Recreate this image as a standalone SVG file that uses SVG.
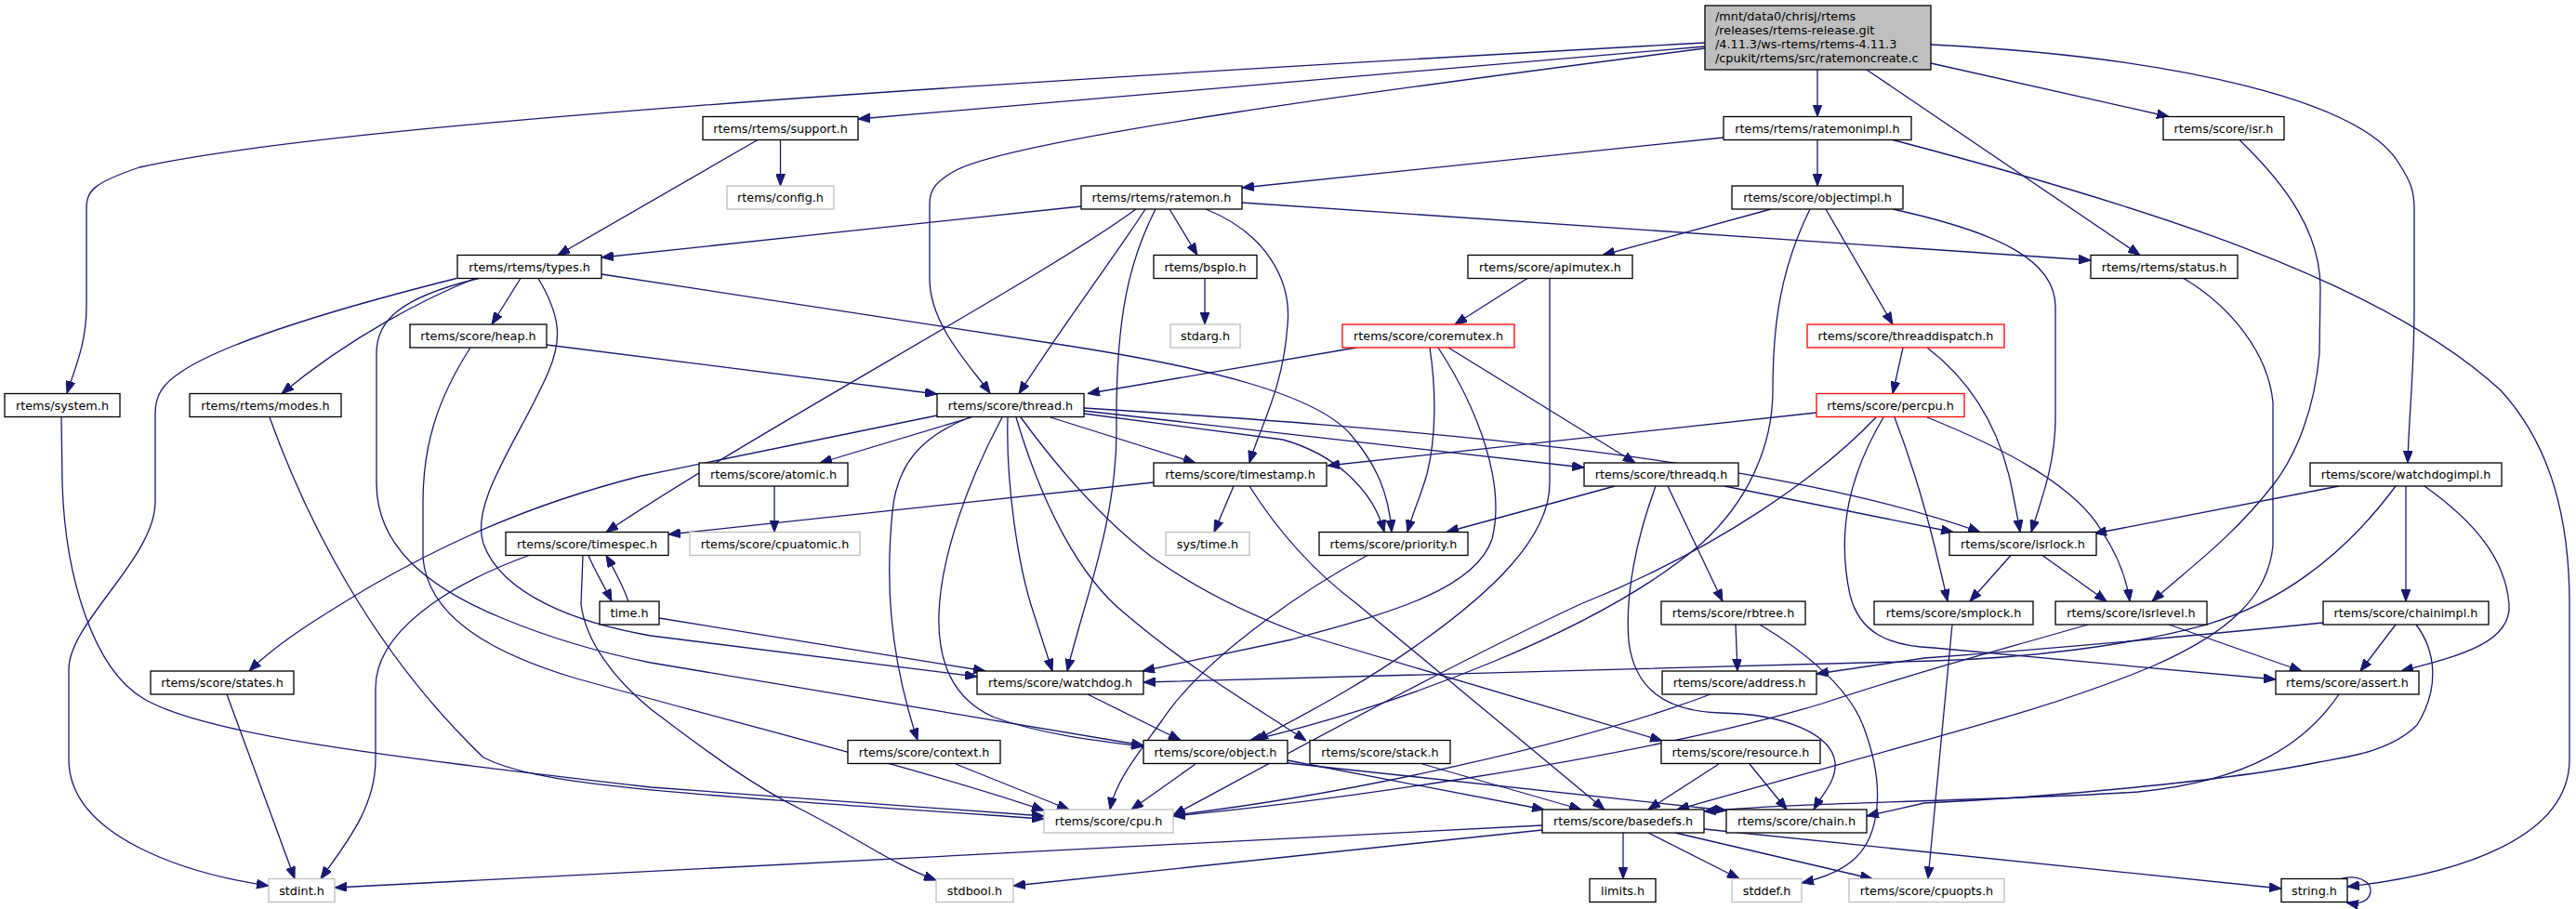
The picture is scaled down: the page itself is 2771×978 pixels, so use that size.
<svg xmlns="http://www.w3.org/2000/svg" width="2771" height="978" viewBox="0 0 2771 978">
<style>
rect{fill:#fff;stroke:#000;stroke-width:1.3}
.g rect{stroke:#bfbfbf}
.r rect{stroke:#ff0000}
#main rect{fill:#bfbfbf}
text{font-family:"DejaVu Sans","Liberation Sans",sans-serif;font-size:12.8px;fill:#000;text-anchor:middle}
#main text{text-anchor:start}
#edges path{fill:none;stroke:#191970;stroke-width:1.3;marker-end:url(#a)}
</style>
<defs>
<marker id="a" viewBox="0 0 13 10" refX="13" refY="5" markerWidth="13" markerHeight="10" markerUnits="userSpaceOnUse" orient="auto"><path d="M0,0L13,5L0,10z" fill="#191970" stroke="#191970"/></marker>
</defs>
<rect x="0" y="0" width="2771" height="978" style="fill:#fff;stroke:none"/>
<g id="edges">
<path d="M1834,46 C1000,92 350,135 150,180 C100,197 93,205 93,225 L93,330 C93,370 80,398 72,423"/>
<path d="M1834,50 L923,128"/>
<path d="M1834,52 C1500,95 1080,150 1025,185 C1005,197 1000,205 1000,220 L1000,300 C1000,350 1045,395 1065,423"/>
<path d="M1955,75 L1955,125.5"/>
<path d="M2008,75 L2302,274.5"/>
<path d="M2077,68 L2333,125.5"/>
<path d="M2077,48 C2350,62 2540,110 2580,175 C2593,195 2597,205 2597,225 L2597,330 C2597,400 2591,450 2590,498"/>
<path d="M839.5,150.5 L839.5,200"/>
<path d="M815,150.5 L600,274.5"/>
<path d="M1955,150.5 L1955,200"/>
<path d="M1854,148 L1336,202"/>
<path d="M2036,150.5 C2300,220 2560,300 2690,420 C2745,480 2764,560 2764,650 L2764,817 C2764,900 2650,940 2525,954"/>
<path d="M2516,946 C2535,940 2550,948 2550,958 C2550,968 2540,974 2524,971"/>
<path d="M1163,222 L647,277"/>
<path d="M1258,225 L1288,274.5"/>
<path d="M1232,225 C1200,275 1150,340 1096,423.5"/>
<path d="M1222,225 C1120,300 820,460 652,572.5"/>
<path d="M1243,225 C1215,280 1200,340 1201,460 C1202,560 1165,650 1148,722"/>
<path d="M1297,225 C1360,250 1390,300 1385,350 C1380,420 1355,460 1344,498"/>
<path d="M1336,218 L2249,280"/>
<path d="M560,299.5 L529,349"/>
<path d="M511,299.5 C460,320 380,360 303,423.5"/>
<path d="M491,299.5 C350,335 240,370 195,400 C175,413 167,425 167,445 L167,540 C167,600 74,670 74,720 L74,817 C74,900 200,940 289,953"/>
<path d="M579,299.5 C603,340 605,365 590,400 C560,470 505,540 520,585 C540,640 620,670 700,684 L1051,728"/>
<path d="M647,295 L1136,370 C1300,395 1420,425 1455,470 C1480,500 1494,530 1497,572.5"/>
<path d="M515,299.5 C430,320 405,345 405,380 L405,520 C405,585 455,630 540,665 C600,690 650,703 700,713 L1230,802"/>
<path d="M588,371 L1008,424"/>
<path d="M506,374 C470,430 455,480 455,540 L455,600 C460,660 520,700 620,730 C800,780 1000,830 1123,872"/>
<path d="M66,449 L67,520 C70,620 100,720 155,752 C220,790 400,812 700,847 L1123,878"/>
<path d="M290,449 C330,560 400,700 520,815 C580,845 700,852 1123,881"/>
<path d="M1008,447 L690,512 C560,545 470,590 400,630 C350,660 300,690 268,722"/>
<path d="M1045,449 L882,498"/>
<path d="M1130,449 L1286,498"/>
<path d="M1166,442 L1704,503"/>
<path d="M1166,439 C1500,460 1900,490 2130,572.5"/>
<path d="M1166,445 L1380,473 C1440,490 1478,530 1489,572.5"/>
<path d="M1043,449 C990,470 965,500 960,550 C953,620 955,700 987,796.5"/>
<path d="M1078,449 C1040,520 1012,600 1010,660 C1008,720 1030,755 1070,772 C1120,790 1180,797 1230,803"/>
<path d="M1084,449 C1082,520 1095,610 1112,660 L1132,722"/>
<path d="M1093,449 C1120,540 1160,620 1210,660 C1280,720 1350,760 1405,797"/>
<path d="M1098,449 C1150,520 1200,570 1240,600 C1290,635 1340,660 1400,682 L1788,797"/>
<path d="M1459,374 L1170,423.5"/>
<path d="M1538,374 C1545,420 1545,470 1535,510 C1528,535 1520,550 1514,572.5"/>
<path d="M1558,374 L1759,498"/>
<path d="M1547,374 C1590,440 1620,520 1605,580 C1585,640 1470,665 1390,688 L1229,722"/>
<path d="M1643,299.5 L1565,349"/>
<path d="M1667,299.5 L1667,520 C1667,580 1600,640 1530,690 C1460,740 1400,770 1351,796.5"/>
<path d="M1905,225 L1724,274.5"/>
<path d="M1964,225 L2036,349"/>
<path d="M2036,225 C2150,250 2211,280 2211,330 L2211,450 C2211,500 2195,540 2185,572.5"/>
<path d="M1947,225 C1915,290 1907,350 1907,420 C1907,480 1880,540 1830,585 C1720,680 1500,760 1344,797"/>
<path d="M2047,374 L2036,423.5"/>
<path d="M2073,374 C2120,410 2150,460 2163,520 C2168,545 2171,560 2173,572.5"/>
<path d="M1954,444 L1428,501"/>
<path d="M2018,449 C1960,510 1850,590 1700,650 C1550,720 1350,830 1262,877"/>
<path d="M2026,449 C1990,510 1975,570 1990,640 C2000,680 2030,695 2080,697 L2448,731"/>
<path d="M2038,449 C2065,520 2080,580 2095,647"/>
<path d="M2073,449 C2150,480 2230,520 2260,570 C2280,600 2288,625 2291,647"/>
<path d="M833,523 L833,572.5"/>
<path d="M1241,519 L719,575"/>
<path d="M1327,523 L1306,572.5"/>
<path d="M1344,523 C1380,580 1420,620 1460,650 L1726,871"/>
<path d="M1737,523 L1556,572.5"/>
<path d="M1794,523 L1853,647"/>
<path d="M1855,523 L2101,572.5"/>
<path d="M1781,523 C1760,580 1748,640 1752,690 C1758,740 1790,765 1850,767 C1920,768 1970,790 1974,820 C1976,840 1960,855 1951,871"/>
<path d="M2516,523 L2253,574"/>
<path d="M2588,523 L2588,647"/>
<path d="M2608,523 C2660,560 2695,600 2699,650 C2702,690 2650,705 2583,722"/>
<path d="M2577,523 C2520,600 2450,650 2373,672 C2290,695 2180,708 2080,711 L1230,734"/>
<path d="M569,597.5 C480,630 404,680 404,740 L404,817 C404,870 370,910 345,945.5"/>
<path d="M627,597.5 L625,650 C630,690 660,730 700,763 C750,800 800,840 860,870 C920,900 960,930 1007,947"/>
<path d="M633,597.5 C640,615 650,630 658,647"/>
<path d="M676,647 C670,630 662,615 652,597.5"/>
<path d="M709,665 L1060,722"/>
<path d="M1471,597.5 C1420,625 1300,700 1250,775 C1225,810 1200,840 1194,871"/>
<path d="M2163,597.5 L2119,647"/>
<path d="M2197,597.5 L2266,647"/>
<path d="M1867,672 L1869,722"/>
<path d="M1893,672 C1940,700 1990,740 2005,783 C2030,850 2020,900 1996,923 C1980,938 1960,945 1938,950"/>
<path d="M2100,672 L2074,945.5"/>
<path d="M2333,672 L2476,722"/>
<path d="M2246,672 C2150,700 2080,717 1960,757 C1750,820 1400,865 1262,878"/>
<path d="M2499,670 C2300,690 2150,702 2070,708 L1954,725"/>
<path d="M2577,672 L2539,722"/>
<path d="M2599,672 C2620,700 2625,740 2600,780 C2570,810 2520,815 2494,820 C2400,840 2200,858 2070,864 L2008,878"/>
<path d="M244,747 L317,945.5"/>
<path d="M1170,747 L1270,796.5"/>
<path d="M1840,747 C1700,800 1450,855 1262,877"/>
<path d="M2516,747 C2480,800 2420,840 2300,852 C2150,862 1950,862 1833,873"/>
<path d="M1028,822 L1150,871"/>
<path d="M1286,822 L1217,871"/>
<path d="M1385,818 L1661,871"/>
<path d="M1385,821 L1857,872"/>
<path d="M1530,822 L1701,871"/>
<path d="M1849,822 L1773,871"/>
<path d="M1882,822 L1922,871"/>
<path d="M2349,299.5 C2400,330 2440,380 2445,433 L2445,587 C2440,640 2400,680 2315,717 C2200,765 2080,793 1804,871"/>
<path d="M2409,150.5 C2460,200 2496,250 2496,310 L2495,380 C2490,440 2470,490 2445,522 C2400,580 2350,615 2315,647"/>
<path d="M1746,896 L1746,945.5"/>
<path d="M1773,896 L1871,945.5"/>
<path d="M1802,896 L2014,945.5"/>
<path d="M1833,892 L2454,956"/>
<path d="M1659,888 L360,955"/>
<path d="M1659,893 L1090,953"/>
<path d="M1296,299.5 L1296,349"/>
</g>
<g id="main"><rect x="1834" y="6" width="243" height="69"/><text x="1845" y="22">/mnt/data0/chrisj/rtems</text><text x="1845" y="37">/releases/rtems-release.git</text><text x="1845" y="52">/4.11.3/ws-rtems/rtems-4.11.3</text><text x="1845" y="67">/cpukit/rtems/src/ratemoncreate.c</text></g>
<g id="support"><rect x="756" y="125.5" width="167" height="25"/><text x="839.5" y="142.5">rtems/rtems/support.h</text></g>
<g id="ratemonimpl"><rect x="1854" y="125.5" width="202" height="25"/><text x="1955" y="142.5">rtems/rtems/ratemonimpl.h</text></g>
<g id="isr"><rect x="2327" y="125.5" width="130" height="25"/><text x="2392" y="142.5">rtems/score/isr.h</text></g>
<g id="config" class="g"><rect x="782" y="200" width="115" height="25"/><text x="839.5" y="217">rtems/config.h</text></g>
<g id="ratemon"><rect x="1163" y="200" width="173" height="25"/><text x="1249.5" y="217">rtems/rtems/ratemon.h</text></g>
<g id="objectimpl"><rect x="1863" y="200" width="184" height="25"/><text x="1955" y="217">rtems/score/objectimpl.h</text></g>
<g id="types"><rect x="492" y="274.5" width="155" height="25"/><text x="569.5" y="291.5">rtems/rtems/types.h</text></g>
<g id="bspIo"><rect x="1241" y="274.5" width="111" height="25"/><text x="1296.5" y="291.5">rtems/bspIo.h</text></g>
<g id="apimutex"><rect x="1579" y="274.5" width="177" height="25"/><text x="1667.5" y="291.5">rtems/score/apimutex.h</text></g>
<g id="status"><rect x="2249" y="274.5" width="158" height="25"/><text x="2328" y="291.5">rtems/rtems/status.h</text></g>
<g id="heap"><rect x="441" y="349" width="147" height="25"/><text x="514.5" y="366">rtems/score/heap.h</text></g>
<g id="stdarg" class="g"><rect x="1259" y="349" width="75" height="25"/><text x="1296.5" y="366">stdarg.h</text></g>
<g id="coremutex" class="r"><rect x="1444" y="349" width="185" height="25"/><text x="1536.5" y="366">rtems/score/coremutex.h</text></g>
<g id="threaddispatch" class="r"><rect x="1944" y="349" width="212" height="25"/><text x="2050" y="366">rtems/score/threaddispatch.h</text></g>
<g id="system"><rect x="5" y="423.5" width="124" height="25"/><text x="67" y="440.5">rtems/system.h</text></g>
<g id="modes"><rect x="204" y="423.5" width="163" height="25"/><text x="285.5" y="440.5">rtems/rtems/modes.h</text></g>
<g id="thread"><rect x="1008" y="423.5" width="158" height="25"/><text x="1087" y="440.5">rtems/score/thread.h</text></g>
<g id="percpu" class="r"><rect x="1954" y="423.5" width="159" height="25"/><text x="2033.5" y="440.5">rtems/score/percpu.h</text></g>
<g id="atomic"><rect x="752" y="498" width="160" height="25"/><text x="832" y="515">rtems/score/atomic.h</text></g>
<g id="timestamp"><rect x="1241" y="498" width="186" height="25"/><text x="1334" y="515">rtems/score/timestamp.h</text></g>
<g id="threadq"><rect x="1704" y="498" width="166" height="25"/><text x="1787" y="515">rtems/score/threadq.h</text></g>
<g id="watchdogimpl"><rect x="2485" y="498" width="206" height="25"/><text x="2588" y="515">rtems/score/watchdogimpl.h</text></g>
<g id="timespec"><rect x="544" y="572.5" width="175" height="25"/><text x="631.5" y="589.5">rtems/score/timespec.h</text></g>
<g id="cpuatomic" class="g"><rect x="742" y="572.5" width="183" height="25"/><text x="833.5" y="589.5">rtems/score/cpuatomic.h</text></g>
<g id="systime" class="g"><rect x="1254" y="572.5" width="90" height="25"/><text x="1299" y="589.5">sys/time.h</text></g>
<g id="priority"><rect x="1419" y="572.5" width="160" height="25"/><text x="1499" y="589.5">rtems/score/priority.h</text></g>
<g id="isrlock"><rect x="2097" y="572.5" width="158" height="25"/><text x="2176" y="589.5">rtems/score/isrlock.h</text></g>
<g id="time"><rect x="645" y="647" width="64" height="25"/><text x="677" y="664">time.h</text></g>
<g id="rbtree"><rect x="1787" y="647" width="155" height="25"/><text x="1864.5" y="664">rtems/score/rbtree.h</text></g>
<g id="smplock"><rect x="2016" y="647" width="171" height="25"/><text x="2101.5" y="664">rtems/score/smplock.h</text></g>
<g id="isrlevel"><rect x="2211" y="647" width="163" height="25"/><text x="2292.5" y="664">rtems/score/isrlevel.h</text></g>
<g id="chainimpl"><rect x="2499" y="647" width="178" height="25"/><text x="2588" y="664">rtems/score/chainimpl.h</text></g>
<g id="states"><rect x="162" y="722" width="154" height="25"/><text x="239" y="739">rtems/score/states.h</text></g>
<g id="watchdog"><rect x="1051" y="722" width="179" height="25"/><text x="1140.5" y="739">rtems/score/watchdog.h</text></g>
<g id="address"><rect x="1788" y="722" width="166" height="25"/><text x="1871" y="739">rtems/score/address.h</text></g>
<g id="assert"><rect x="2448" y="722" width="154" height="25"/><text x="2525" y="739">rtems/score/assert.h</text></g>
<g id="context"><rect x="912" y="796.5" width="164" height="25"/><text x="994" y="813.5">rtems/score/context.h</text></g>
<g id="object"><rect x="1230" y="796.5" width="155" height="25"/><text x="1307.5" y="813.5">rtems/score/object.h</text></g>
<g id="stack"><rect x="1409" y="796.5" width="151" height="25"/><text x="1484.5" y="813.5">rtems/score/stack.h</text></g>
<g id="resource"><rect x="1787" y="796.5" width="171" height="25"/><text x="1872.5" y="813.5">rtems/score/resource.h</text></g>
<g id="cpu" class="g"><rect x="1123" y="871" width="139" height="25"/><text x="1192.5" y="888">rtems/score/cpu.h</text></g>
<g id="basedefs"><rect x="1659" y="871" width="174" height="25"/><text x="1746" y="888">rtems/score/basedefs.h</text></g>
<g id="chain"><rect x="1857" y="871" width="151" height="25"/><text x="1932.5" y="888">rtems/score/chain.h</text></g>
<g id="stdint" class="g"><rect x="289" y="945.5" width="71" height="25"/><text x="324.5" y="962.5">stdint.h</text></g>
<g id="stdbool" class="g"><rect x="1007" y="945.5" width="83" height="25"/><text x="1048.5" y="962.5">stdbool.h</text></g>
<g id="limits"><rect x="1710" y="945.5" width="71" height="25"/><text x="1745.5" y="962.5">limits.h</text></g>
<g id="stddef" class="g"><rect x="1863" y="945.5" width="75" height="25"/><text x="1900.5" y="962.5">stddef.h</text></g>
<g id="cpuopts" class="g"><rect x="1989" y="945.5" width="167" height="25"/><text x="2072.5" y="962.5">rtems/score/cpuopts.h</text></g>
<g id="string"><rect x="2454" y="945.5" width="71" height="25"/><text x="2489.5" y="962.5">string.h</text></g>
</svg>
